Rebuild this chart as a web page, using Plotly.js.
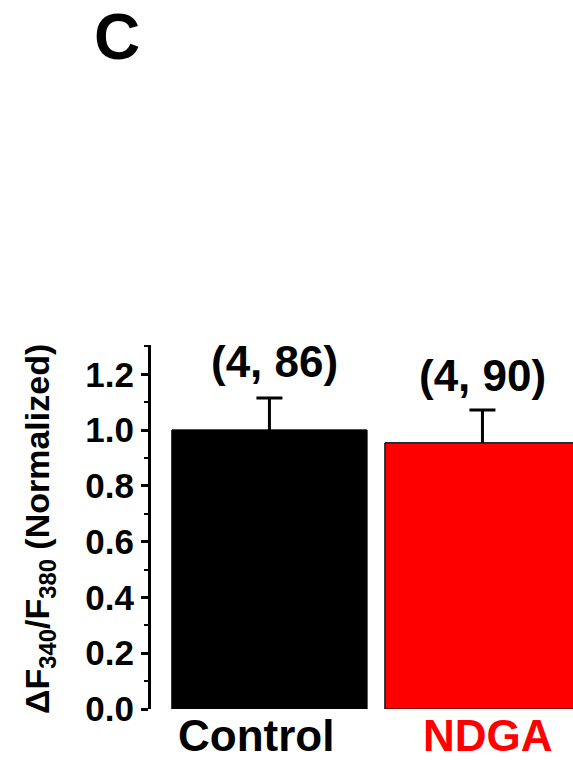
<!DOCTYPE html>
<html>
<head>
<meta charset="utf-8">
<script src="https://cdn.plot.ly/plotly-3.0.1.min.js"></script>
<style>html,body{margin:0;padding:0;background:#fff;}#chart{width:573px;height:760px;}</style>
</head>
<body>
<div id="chart"></div>
<script>
const categories = ["Control", "NDGA"];
const values = [1.0, 0.954];
const errors = [0.115, 0.118];
const nLabels = ["(4, 86)", "(4, 90)"];
const barColors = ["#000000", "#ff0000"];
const labelColors = ["#000000", "#ff0000"];
const yTickVals = [0, 0.2, 0.4, 0.6, 0.8, 1.0, 1.2];

const FONT = "Liberation Sans, Arial, Helvetica, sans-serif";
const xIdx = categories.map((c, i) => i);

// error bars (lower half hidden beneath the bars drawn on top)
const errTrace = {
  type: "bar",
  x: xIdx,
  y: values,
  width: 0.915,
  marker: {color: barColors, line: {color: "#000000", width: 1}},
  error_y: {type: "data", array: errors, symmetric: true, color: "#000000", thickness: 3, width: 13},
  hoverinfo: "none"
};
const barTrace = {
  type: "bar",
  x: xIdx,
  y: values,
  width: 0.915,
  marker: {color: barColors, line: {color: "#000000", width: 1}},
  hoverinfo: "none"
};

const nShiftX = [5, 0];
const nShiftY = [37, 34];
const catShiftX = [-13, 6];

const annotations = [];
categories.forEach((c, i) => {
  annotations.push({
    x: i, y: values[i] + errors[i], xref: "x", yref: "y",
    text: nLabels[i], showarrow: false, xanchor: "center", yanchor: "middle",
    xshift: nShiftX[i], yshift: nShiftY[i],
    font: {family: FONT, size: 44, weight: "bold", color: "#000000"}
  });
  annotations.push({
    x: i, y: 0, xref: "x", yref: "y",
    text: c, showarrow: false, xanchor: "center", yanchor: "middle",
    xshift: catShiftX[i], yshift: -26,
    font: {family: FONT, size: 44, weight: "bold", color: labelColors[i]}
  });
});
annotations.push({
  x: 0, y: 0.5, xref: "paper", yref: "paper", xanchor: "center", yanchor: "middle",
  xshift: -112, yshift: -2, textangle: -90, showarrow: false,
  text: "ΔF<sub>340</sub>/F<sub>380</sub> (Normalized)",
  font: {family: FONT, size: 34, weight: "bold", color: "#000000"}
});
annotations.push({
  x: 0, y: 1, xref: "paper", yref: "paper", xanchor: "center", yanchor: "middle",
  xshift: -34, yshift: 308, showarrow: false, text: "C",
  font: {family: FONT, size: 64, weight: "bold", color: "#000000"}
});

const layout = {
  width: 573, height: 760,
  margin: {l: 151, r: 0, t: 345, b: 51, pad: 0},
  paper_bgcolor: "#ffffff", plot_bgcolor: "#ffffff",
  showlegend: false,
  barmode: "overlay",
  xaxis: {range: [-0.556, 1.425], showline: false, showticklabels: false, ticks: "", showgrid: false, zeroline: false, fixedrange: true},
  yaxis: {
    range: [0, 1.305], showline: true, linecolor: "#000000", linewidth: 3,
    ticks: "outside", ticklen: 7, tickwidth: 3, tickcolor: "#000000",
    tickvals: yTickVals, tickformat: ".1f",
    tickfont: {family: FONT, size: 35, weight: "bold", color: "#000000"},
    minor: {dtick: 0.1, tick0: 0, ticks: "outside", ticklen: 4, tickwidth: 2, tickcolor: "#000000", showgrid: false},
    showgrid: false, zeroline: false, automargin: false, fixedrange: true
  },
  annotations: annotations
};

Plotly.newPlot("chart", [errTrace, barTrace], layout, {displayModeBar: false, staticPlot: true});
</script>
</body>
</html>
